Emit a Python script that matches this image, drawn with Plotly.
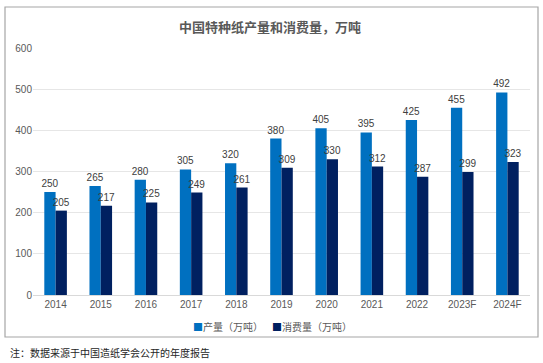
import plotly.graph_objects as go

years = ["2014", "2015", "2016", "2017", "2018", "2019", "2020", "2021", "2022", "2023F", "2024F"]
production = [250, 265, 280, 305, 320, 380, 405, 395, 425, 455, 492]
consumption = [205, 217, 225, 249, 261, 309, 330, 312, 287, 299, 323]
series_names = ["产量（万吨）", "消费量（万吨）"]
colors = ["#0070C0", "#002060"]

FONT = "Liberation Sans, Arial, Noto Sans CJK SC"
W, H = 543, 363
L, R, T, B = 33, 13, 48, 68
pw, ph = W - L - R, H - T - B

def px2x(p):
    return (p - L) / pw

def px2y(p):
    return (H - B - p) / ph

fig = go.Figure()
for name, vals, col in zip(series_names, [production, consumption], colors):
    fig.add_trace(go.Bar(
        x=years, y=vals, name=name,
        marker=dict(color=col, line=dict(width=0)),
        text=vals, textposition="outside", cliponaxis=False, constraintext="none",
        textfont=dict(size=10, color="#404040", family=FONT),
    ))

legend_text = "&nbsp;&nbsp;&nbsp;&nbsp;".join(
    f"<span style='color:{c}'>■</span>{n}" for n, c in zip(series_names, colors))

fig.update_layout(
    width=W, height=H,
    margin=dict(l=L, r=R, t=T, b=B, pad=0),
    paper_bgcolor="white", plot_bgcolor="white",
    barmode="group", bargap=0.5, bargroupgap=0,
    font=dict(family=FONT, size=10, color="#595959"),
    title=dict(text="<b>中国特种纸产量和消费量，万吨</b>", x=px2x(270), xref="paper", xanchor="center",
               y=1 - 27 / H, yanchor="middle",
               font=dict(size=13, color="#595959", family="Noto Sans CJK SC")),
    showlegend=False,
    xaxis=dict(showgrid=False, showline=True, linecolor="#D9D9D9", linewidth=1,
               ticks="", tickfont=dict(size=10, color="#595959")),
    yaxis=dict(range=[0, 600], dtick=100, showgrid=True, gridcolor="#E6E6E6", gridwidth=1,
               zeroline=False, showline=False, ticks="", tickfont=dict(size=10, color="#595959")),
    shapes=[dict(type="rect", xref="paper", yref="paper",
                 x0=px2x(5), x1=px2x(538), y0=px2y(337), y1=px2y(7),
                 line=dict(color="#A6A6A6", width=1.2), fillcolor="rgba(0,0,0,0)", layer="below")],
    annotations=[
        dict(text=legend_text, xref="paper", yref="paper",
             x=px2x(272), y=px2y(326), xanchor="center", yanchor="middle", showarrow=False,
             font=dict(size=10, color="#595959", family="Noto Sans CJK SC")),
        dict(text="注：数据来源于中国造纸学会公开的年度报告", xref="paper", yref="paper",
             x=px2x(8), y=px2y(352), xanchor="left", yanchor="middle", showarrow=False,
             font=dict(size=10, color="#262626", family="Noto Sans CJK SC")),
    ],
)

fig.write_html("out.html", config={"displayModeBar": False},
               post_script="document.body.style.margin='0';document.body.style.overflow='hidden';")
